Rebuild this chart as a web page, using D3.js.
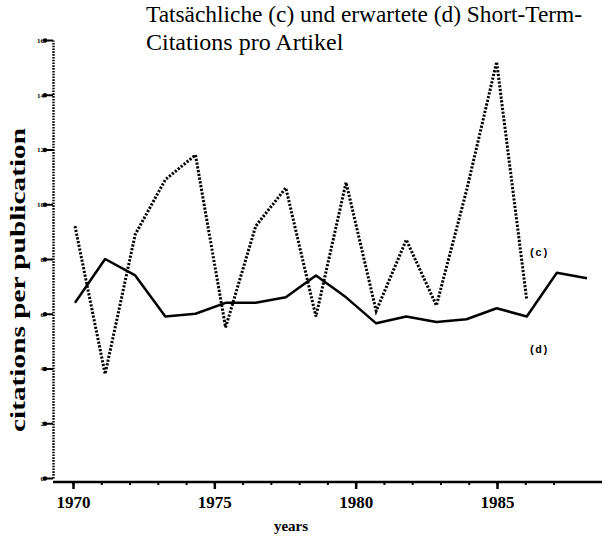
<!DOCTYPE html>
<html>
<head>
<meta charset="utf-8">
<script src="https://cdn.jsdelivr.net/npm/d3@7"></script>
<style>
  body { margin: 0; background: #fff; }
  svg { display: block; }
  text { font-family: "Liberation Serif", "DejaVu Serif", serif; fill: #000; }
  .axis text { font-weight: bold; }
  .axis path, .axis line { stroke: #000; }
  .tag { font-family: "Liberation Mono", monospace; font-weight: bold; font-size: 11px; }
</style>
</head>
<body>
<script>
var years = [1970, 1971, 1972, 1973, 1974, 1975, 1976, 1977, 1978,
             1979, 1980, 1981, 1982, 1983, 1984, 1985, 1986, 1987];

// (c) actual short-term citations per article, 1970-1985
var actual = [9.2, 3.8, 8.9, 10.9, 11.8, 5.5, 9.2, 10.6, 5.9,
              10.8, 6.1, 8.7, 6.3, 10.5, 15.2, 6.5];

// (d) expected short-term citations per article, 1970-1987
var expected = [6.4, 8.0, 7.4, 5.9, 6.0, 6.4, 6.4, 6.6, 7.4,
                6.6, 5.65, 5.9, 5.7, 5.8, 6.2, 5.9, 7.5, 7.3];

var yearTicks = [1970, 1975, 1980, 1985];
var yTicks = [0, 2, 4, 6, 8, 10, 12, 14, 16];

var width = 608, height = 536;

var svg = d3.select("body").append("svg")
    .attr("width", width)
    .attr("height", height);

// in the original the plotted points are spaced a little wider than the axis ticks
var x = d3.scaleLinear()
    .domain([1970, 1987])
    .range([75, 587]);

var xAxisScale = d3.scaleLinear()
    .domain([1970, 1985])
    .range([73, 497]);

var y = d3.scaleLinear()
    .domain([0, 16])
    .range([478, 40]);

var axisY = 482;

// x axis: minor ticks each year, labels every five years
svg.append("g")
    .attr("class", "axis")
    .attr("transform", "translate(0," + axisY + ")")
    .call(d3.axisBottom(xAxisScale)
        .tickValues(d3.range(1970, 1988))
        .tickSize(3)
        .tickFormat(""))
    .call(function(g) {
      g.select(".domain").remove();
      g.selectAll("line").attr("stroke-width", 2);
    });

svg.append("line")
    .attr("x1", 53).attr("x2", 602)
    .attr("y1", axisY).attr("y2", axisY)
    .attr("stroke", "#000")
    .attr("stroke-width", 2.5);

svg.append("g")
    .attr("class", "axis")
    .attr("transform", "translate(0," + axisY + ")")
    .call(d3.axisBottom(xAxisScale)
        .tickValues(yearTicks)
        .tickSize(7)
        .tickPadding(7)
        .tickFormat(d3.format("d")))
    .call(function(g) {
      g.select(".domain").remove();
      g.selectAll("line").attr("stroke-width", 2.5);
      g.selectAll("text").style("font-size", "17px");
    });

// y axis, dotted as in the original
svg.append("g")
    .attr("class", "axis")
    .attr("transform", "translate(53,0)")
    .call(d3.axisLeft(y)
        .tickValues(yTicks)
        .tickSize(7)
        .tickSizeOuter(0)
        .tickPadding(2))
    .call(function(g) {
      g.select(".domain")
          .attr("stroke-width", 2.4)
          .attr("stroke-dasharray", "1.6,1.2");
      g.selectAll("line").attr("stroke-width", 2);
      g.selectAll("text").style("font-size", "7px");
      g.selectAll(".tick").append("circle")
          .attr("cx", -8).attr("r", 2.2).attr("fill", "#000");
    });

var line = d3.line()
    .x(function(d) { return x(d.year); })
    .y(function(d) { return y(d.value); });

var actualData = actual.map(function(v, i) { return {year: years[i], value: v}; });
var expectedData = expected.map(function(v, i) { return {year: years[i], value: v}; });

svg.append("path")
    .datum(expectedData)
    .attr("fill", "none")
    .attr("stroke", "#000")
    .attr("stroke-width", 2.5)
    .attr("stroke-linejoin", "round")
    .attr("d", line);

svg.append("path")
    .datum(actualData)
    .attr("fill", "none")
    .attr("stroke", "#000")
    .attr("stroke-width", 3)
    .attr("stroke-dasharray", "2.2,1.6")
    .attr("d", line);

// series labels
svg.append("text")
    .attr("class", "tag")
    .attr("x", x(1985) + 2)
    .attr("y", y(actual[15]) - 44)
    .text("(c)");

svg.append("text")
    .attr("class", "tag")
    .attr("x", x(1985) + 2)
    .attr("y", y(expected[15]) + 37)
    .text("(d)");

// axis titles
svg.append("text")
    .attr("x", 291)
    .attr("y", 531)
    .style("text-anchor", "middle")
    .style("font-weight", "bold")
    .style("font-size", "15px")
    .text("years");

svg.append("text")
    .attr("transform", "translate(25,280) rotate(-90)")
    .style("text-anchor", "middle")
    .style("font-weight", "bold")
    .style("font-size", "21px")
    .attr("textLength", 304)
    .attr("lengthAdjust", "spacingAndGlyphs")
    .text("citations per publication");

// chart title
var title = svg.append("text")
    .style("font-size", "24px");

title.append("tspan")
    .attr("x", 146).attr("y", 22)
    .attr("textLength", 436)
    .attr("lengthAdjust", "spacingAndGlyphs")
    .text("Tatsächliche (c) und erwartete (d) Short-Term-");

title.append("tspan")
    .attr("x", 146).attr("y", 50)
    .text("Citations pro Artikel");
</script>
</body>
</html>
